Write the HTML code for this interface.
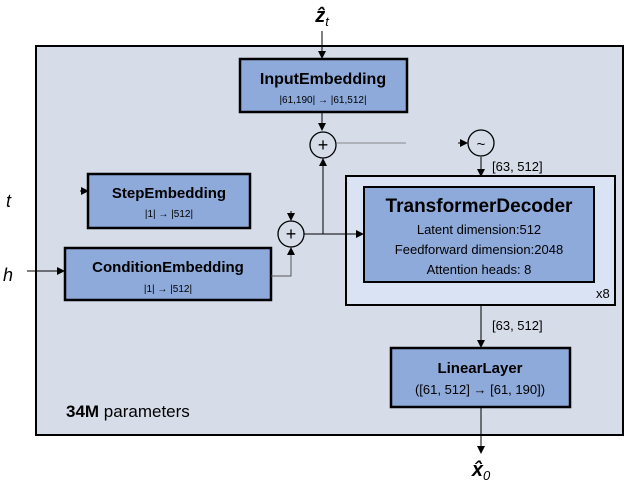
<!DOCTYPE html>
<html><head><style>body{margin:0;background:#fff}svg text{font-family:"Liberation Sans",sans-serif}</style></head><body>
<svg width="628" height="484" viewBox="0 0 628 484" xmlns="http://www.w3.org/2000/svg">
<defs><marker id="a" markerWidth="8" markerHeight="8" refX="7" refY="4" orient="auto" markerUnits="userSpaceOnUse"><path d="M0,0 L8,4 L0,8z" fill="#000"/></marker></defs>
<rect x="36" y="46" width="587" height="389" fill="#d6dde8" stroke="#000" stroke-width="2"/>
<text x="322" y="22" font-family="Liberation Serif" font-style="italic" font-weight="bold" font-size="20" text-anchor="middle">ẑ<tspan font-size="13" dy="4" font-weight="normal">t</tspan></text>
<line x1="322" y1="31" x2="322" y2="58" stroke="#000" marker-end="url(#a)"/>
<rect x="240" y="59" width="167" height="53" fill="#8eaadb" stroke="#000" stroke-width="2.5"/>
<text x="323" y="84" font-size="16" font-weight="bold" text-anchor="middle">InputEmbedding</text>
<text x="323" y="103" font-size="10" text-anchor="middle">|61,190| → |61,512|</text>
<line x1="322" y1="113" x2="322" y2="130" stroke="#000" marker-end="url(#a)"/>
<circle cx="323" cy="145" r="13" fill="none" stroke="#000" stroke-width="1.3"/>
<text x="323" y="151" font-size="18" text-anchor="middle">+</text>
<line x1="337" y1="143" x2="406" y2="143" stroke="#888"/>
<line x1="458" y1="143" x2="467" y2="143" stroke="#000" marker-end="url(#a)"/>
<circle cx="481" cy="143" r="13" fill="none" stroke="#000" stroke-width="1.3"/>
<text x="481" y="149" font-size="15" text-anchor="middle">~</text>
<line x1="481" y1="157" x2="481" y2="176" stroke="#000" marker-end="url(#a)"/>
<text x="492" y="171" font-size="13">[63, 512]</text>
<rect x="346" y="176" width="269" height="129" fill="#dae3f3" stroke="#000" stroke-width="2"/>
<rect x="364" y="187" width="230" height="95" fill="#8eaadb" stroke="#000" stroke-width="2"/>
<text x="479" y="212" font-size="19" font-weight="bold" text-anchor="middle">TransformerDecoder</text>
<text x="479" y="234" font-size="13" text-anchor="middle">Latent dimension:512</text>
<text x="479" y="254" font-size="13" text-anchor="middle">Feedforward dimension:2048</text>
<text x="479" y="274" font-size="13" text-anchor="middle">Attention heads: 8</text>
<text x="596" y="298" font-size="13">x8</text>
<text x="6" y="207" font-family="Liberation Serif" font-style="italic" font-size="18">t</text>
<line x1="80" y1="191" x2="88" y2="191" stroke="#000" marker-end="url(#a)"/>
<rect x="88" y="174" width="162" height="54" fill="#8eaadb" stroke="#000" stroke-width="2.5"/>
<text x="169" y="198" font-size="15" font-weight="bold" text-anchor="middle">StepEmbedding</text>
<text x="169" y="217" font-size="10" text-anchor="middle">|1| → |512|</text>
<text x="3" y="281" font-family="Liberation Serif" font-style="italic" font-size="18">h</text>
<line x1="27" y1="271" x2="64" y2="271" stroke="#000" marker-end="url(#a)"/>
<rect x="65" y="248" width="206" height="52" fill="#8eaadb" stroke="#000" stroke-width="2.5"/>
<text x="168" y="272" font-size="15" font-weight="bold" text-anchor="middle">ConditionEmbedding</text>
<text x="168" y="292" font-size="10" text-anchor="middle">|1| → |512|</text>
<line x1="291" y1="211" x2="291" y2="220" stroke="#000" marker-end="url(#a)"/>
<circle cx="291" cy="234" r="13" fill="none" stroke="#000" stroke-width="1.3"/>
<text x="291" y="240" font-size="18" text-anchor="middle">+</text>
<polyline points="271,276 291,276 291,248" fill="none" stroke="#555" marker-end="url(#a)"/>
<line x1="304" y1="234" x2="363" y2="234" stroke="#000" marker-end="url(#a)"/>
<polyline points="304,234 323,234 323,159" fill="none" stroke="#000" marker-end="url(#a)"/>
<line x1="481" y1="305" x2="481" y2="347" stroke="#000" marker-end="url(#a)"/>
<text x="492" y="330" font-size="13">[63, 512]</text>
<rect x="391" y="348" width="179" height="59" fill="#8eaadb" stroke="#000" stroke-width="2.5"/>
<text x="480" y="373" font-size="15" font-weight="bold" text-anchor="middle">LinearLayer</text>
<text x="480" y="394" font-size="13" text-anchor="middle">([61, 512] → [61, 190])</text>
<text x="66" y="417" font-size="17"><tspan font-weight="bold">34M</tspan> parameters</text>
<line x1="481" y1="407" x2="481" y2="453" stroke="#000" marker-end="url(#a)"/>
<text x="481" y="476" font-family="Liberation Serif" font-style="italic" font-weight="bold" font-size="20" text-anchor="middle">x̂<tspan font-size="13" dy="4" font-weight="normal">0</tspan></text>
</svg>
</body></html>
